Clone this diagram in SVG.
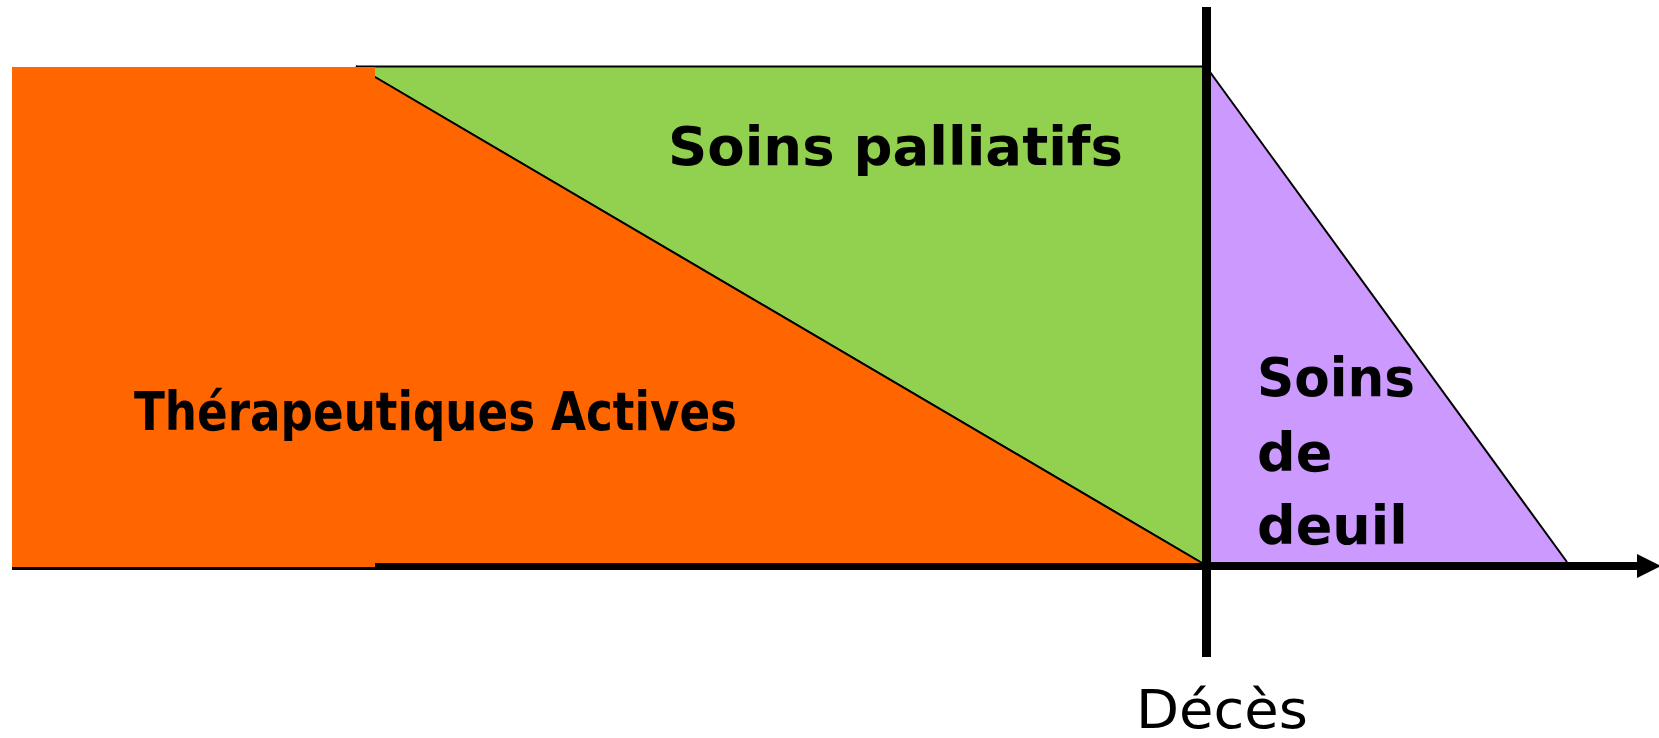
<svg xmlns="http://www.w3.org/2000/svg" width="1659" height="738" viewBox="0 0 1659 738">
<style>
.lbl{font-family:"DejaVu Sans","Liberation Sans",sans-serif;font-weight:bold;font-size:54px;fill:#000}
.plain{font-family:"DejaVu Sans","Liberation Sans",sans-serif;font-size:54px;fill:#000}
</style>
<defs>
<marker id="arr" markerWidth="24" markerHeight="24" refX="0" refY="12" orient="auto" markerUnits="userSpaceOnUse">
<path d="M0,0 L24,12 L0,24 Z" fill="#000"/>
</marker>
</defs>
<rect width="1659" height="738" fill="#fff"/>
<g id="palliatifs">
<polygon points="356,66 1202,66 1202,563" fill="#92D050"/>
<line x1="356" y1="66.5" x2="1202" y2="66.5" stroke="#000" stroke-width="2"/>
<line x1="356" y1="66" x2="1202" y2="563" stroke="#000" stroke-width="2"/>
<text class="lbl" x="668" y="165" textLength="455" lengthAdjust="spacingAndGlyphs">Soins palliatifs</text>
</g>
<g id="connectors">
<line x1="12" y1="566" x2="1637" y2="566" stroke="#000" stroke-width="8" marker-end="url(#arr)"/>
</g>
<g id="therapeutiques">
<polygon points="375,77 1202,563 375,563" fill="#FF6600"/>
<line x1="375" y1="77" x2="1202" y2="563" stroke="#000" stroke-width="2"/>
<rect x="12" y="67" width="363" height="500" fill="#FF6600"/>
<text class="lbl" x="134" y="430" textLength="603" lengthAdjust="spacingAndGlyphs">Thérapeutiques Actives</text>
</g>
<g id="deuil">
<polygon points="1211,73 1211,562 1567,562" fill="#CC99FF"/>
<line x1="1210" y1="72" x2="1567" y2="562" stroke="#000" stroke-width="2"/>
<text class="lbl" x="1257" y="396" textLength="158" lengthAdjust="spacingAndGlyphs">Soins</text>
<text class="lbl" x="1257" y="471">de</text>
<text class="lbl" x="1257" y="544">deuil</text>
</g>
<g id="deces">
<line x1="1206.5" y1="7" x2="1206.5" y2="657" stroke="#000" stroke-width="9"/>
<text class="plain" x="1136" y="728" textLength="172" lengthAdjust="spacingAndGlyphs">Décès</text>
</g>
</svg>
